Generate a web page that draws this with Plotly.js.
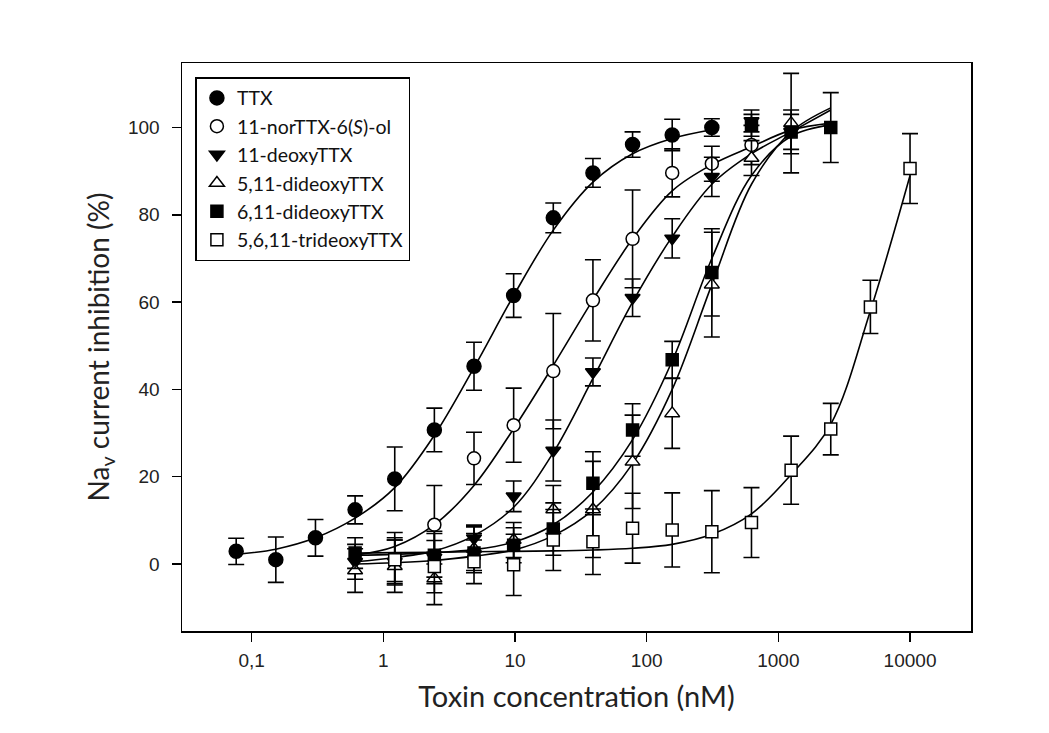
<!DOCTYPE html>
<html>
<head>
<meta charset="utf-8">
<script src="https://cdn.plot.ly/plotly-3.0.1.min.js"></script>
<style>html,body{margin:0;padding:0;background:#fff;}#chart{width:1049px;height:733px;}</style>
</head>
<body>
<div id="chart"></div>
<script>
// ---- data ----
var seriesNames = ["TTX", "11-norTTX-6(<i>S</i>)-ol", "11-deoxyTTX", "5,11-dideoxyTTX", "6,11-dideoxyTTX", "5,6,11-trideoxyTTX"];

// measured points (concentration nM, % inhibition, SD)
var ttxX   = [0.0763, 0.1526, 0.3052, 0.6104, 1.2207, 2.4414, 4.8828, 9.7656, 19.531, 39.063, 78.125, 156.25, 312.5];
var ttxY   = [2.9, 1.0, 6.0, 12.4, 19.5, 30.7, 45.3, 61.5, 79.3, 89.6, 96.1, 98.3, 100.0];
var ttxE   = [3.0, 5.2, 4.2, 3.2, 7.3, 5.0, 5.5, 5.0, 3.4, 3.3, 2.9, 3.6, 2.0];

var norX   = [2.4414, 4.8828, 9.7656, 19.531, 39.063, 78.125, 156.25, 312.5, 625];
var norY   = [9.0, 24.2, 31.8, 44.2, 60.4, 74.5, 89.6, 91.7, 96.0];
var norE   = [9.0, 6.0, 8.5, 13.2, 9.3, 11.2, 5.5, 4.0, 4.5];

var deoX   = [0.6104, 1.2207, 2.4414, 4.8828, 9.7656, 19.531, 39.063, 78.125, 156.25, 312.5, 625, 1250];
var deoY   = [0.5, 0.5, 1.5, 5.9, 15.5, 26.0, 44.0, 61.0, 74.6, 88.7, 101.5, 99.0];
var deoE   = [4.0, 5.0, 6.0, 3.0, 3.5, 7.0, 3.2, 4.3, 4.5, 4.5, 2.5, 5.0];

var di5X   = [0.6104, 1.2207, 2.4414, 4.8828, 9.7656, 19.531, 39.063, 78.125, 156.25, 312.5, 625, 1250];
var di5Y   = [-1.5, -0.5, -3.3, 3.5, 5.5, 12.5, 12.5, 23.4, 34.5, 64.0, 93.0, 101.0];
var di5E   = [5.0, 6.0, 6.0, 5.0, 4.0, 5.5, 11.0, 10.7, 8.0, 12.0, 4.0, 11.4];

var di6X   = [0.6104, 1.2207, 2.4414, 4.8828, 9.7656, 19.531, 39.063, 78.125, 156.25, 312.5, 625, 1250, 2500];
var di6Y   = [2.5, 1.2, 2.0, 2.5, 4.3, 8.0, 18.5, 30.7, 46.8, 66.8, 100.5, 99.0, 100.0];
var di6E   = [3.5, 6.0, 5.0, 4.5, 4.0, 6.0, 7.2, 6.0, 4.2, 10.0, 2.5, 4.0, 8.0];

var triX   = [1.2207, 2.4414, 4.8828, 9.7656, 19.531, 39.063, 78.125, 156.25, 312.5, 625, 1250, 2500, 5000, 10000];
var triY   = [1.0, -0.6, 0.5, -0.2, 5.5, 5.1, 8.2, 7.8, 7.4, 9.5, 21.5, 30.9, 58.9, 90.6];
var triE   = [5.0, 6.0, 5.0, 7.0, 7.0, 7.5, 8.0, 8.5, 9.4, 8.0, 7.8, 5.9, 6.1, 8.0];

// fitted curves
var ttxFitX = [0.0763, 0.1526, 0.3052, 0.6104, 1.2207, 2.4414, 4.8828, 9.7656, 19.531, 39.063, 78.125, 156.25, 312.5];
var ttxFitY = [2.2, 3.4, 6.0, 10.5, 17.5, 29.5, 45.0, 61.5, 76.5, 87.5, 94.0, 97.5, 99.5];
var norFitX = [0.6104, 1.2207, 2.4414, 4.8828, 9.7656, 19.531, 39.063, 78.125, 156.25, 312.5, 625, 1250, 2500];
var norFitY = [2.0, 4.0, 9.0, 18.0, 31.0, 45.5, 60.5, 74.5, 85.5, 91.5, 95.6, 99.4, 101.0];
var deoFitX = [0.6104, 1.2207, 2.4414, 4.8828, 9.7656, 19.531, 39.063, 78.125, 156.25, 312.5, 625, 1250, 2500];
var deoFitY = [0.5, 1.5, 3.0, 6.5, 13.0, 25.5, 42.5, 60.0, 75.0, 87.0, 94.0, 99.0, 104.0];
var di5FitX = [0.6104, 1.2207, 2.4414, 4.8828, 9.7656, 19.531, 39.063, 78.125, 156.25, 312.5, 625, 1250, 2500];
var di5FitY = [0.0, 0.3, 0.8, 1.8, 3.2, 6.5, 12.4, 23.0, 40.0, 64.0, 87.0, 99.0, 104.5];
var di6FitX = [0.6104, 1.2207, 2.4414, 4.8828, 9.7656, 19.531, 39.063, 78.125, 156.25, 312.5, 625, 1250, 2500];
var di6FitY = [2.0, 2.2, 2.6, 3.3, 5.0, 9.0, 16.5, 28.5, 46.5, 70.0, 89.0, 98.0, 100.6];
var triFitX = [0.6104, 1.2207, 2.4414, 4.8828, 9.7656, 19.531, 39.063, 78.125, 156.25, 312.5, 625, 1250, 2500, 5000, 10000];
var triFitY = [2.5, 2.6, 2.7, 2.8, 2.9, 3.0, 3.2, 3.6, 4.5, 6.8, 11.5, 20.5, 32.0, 58.0, 89.0];

var xTickVals = [0.1, 1, 10, 100, 1000, 10000];
var xTickText = ["0,1", "1", "10", "100", "1000", "10000"];
var yTickVals = [0, 20, 40, 60, 80, 100];

// ---- build traces ----
var pts = [
  {x: ttxX, y: ttxY, e: ttxE, sym: "circle", fill: "black", size: 14},
  {x: norX, y: norY, e: norE, sym: "circle", fill: "white", size: 13},
  {x: deoX, y: deoY, e: deoE, sym: "triangle-down", fill: "black", size: 13},
  {x: di5X, y: di5Y, e: di5E, sym: "triangle-up", fill: "white", size: 13},
  {x: di6X, y: di6Y, e: di6E, sym: "square", fill: "black", size: 12},
  {x: triX, y: triY, e: triE, sym: "square", fill: "white", size: 12}
];
var fits = [
  [ttxFitX, ttxFitY], [norFitX, norFitY], [deoFitX, deoFitY],
  [di5FitX, di5FitY], [di6FitX, di6FitY], [triFitX, triFitY]
];

var traces = [];
fits.forEach(function (f) {
  traces.push({
    x: f[0], y: f[1], type: "scatter", mode: "lines",
    line: {color: "black", width: 1.6, shape: "spline", smoothing: 1},
    showlegend: false, hoverinfo: "skip"
  });
});
pts.forEach(function (p, i) {
  traces.push({
    x: p.x, y: p.y, type: "scatter", mode: "markers", name: seriesNames[i],
    marker: {symbol: p.sym, size: p.size, color: p.fill, line: {color: "black", width: 1.5}},
    error_y: {type: "data", array: p.e, visible: true, color: "black", thickness: 1.6, width: 8}
  });
});

var titleFont = "Lato, 'Open Sans', sans-serif";
var tickFont = {family: "'Liberation Sans', Arial, sans-serif", size: 19, color: "#222"};

var layout = {
  width: 1049, height: 733,
  paper_bgcolor: "white", plot_bgcolor: "white",
  margin: {l: 182, r: 78, t: 63, b: 102},
  showlegend: true,
  legend: {
    x: 0.017, y: 0.975, xanchor: "left", yanchor: "top",
    bordercolor: "black", borderwidth: 1.5, bgcolor: "white",
    font: {family: titleFont, size: 19.5, color: "#111"},
    itemwidth: 30
  },
  xaxis: {
    type: "log", range: [-1.529, 4.463],
    tickvals: xTickVals, ticktext: xTickText,
    ticks: "outside", ticklen: 9, tickwidth: 1.5, tickcolor: "black",
    ticklabelstandoff: 3,
    showline: true, linecolor: "black", linewidth: 1.5, mirror: true,
    showgrid: false, zeroline: false,
    tickfont: tickFont,
    title: {text: "Toxin concentration (nM)", standoff: 16,
            font: {family: titleFont, size: 29, color: "#222"}}
  },
  yaxis: {
    range: [-15.35, 114.78],
    tickvals: yTickVals,
    ticks: "outside", ticklen: 9, tickwidth: 1.5, tickcolor: "black",
    ticklabelstandoff: 8,
    showline: true, linecolor: "black", linewidth: 1.5, mirror: true,
    showgrid: false, zeroline: false,
    tickfont: tickFont,
    title: {text: "Na<sub>v</sub> current inhibition (%)", standoff: 10,
            font: {family: titleFont, size: 28, color: "#222"}}
  }
};

Plotly.newPlot("chart", traces, layout, {displayModeBar: false, staticPlot: true});
</script>
</body>
</html>
